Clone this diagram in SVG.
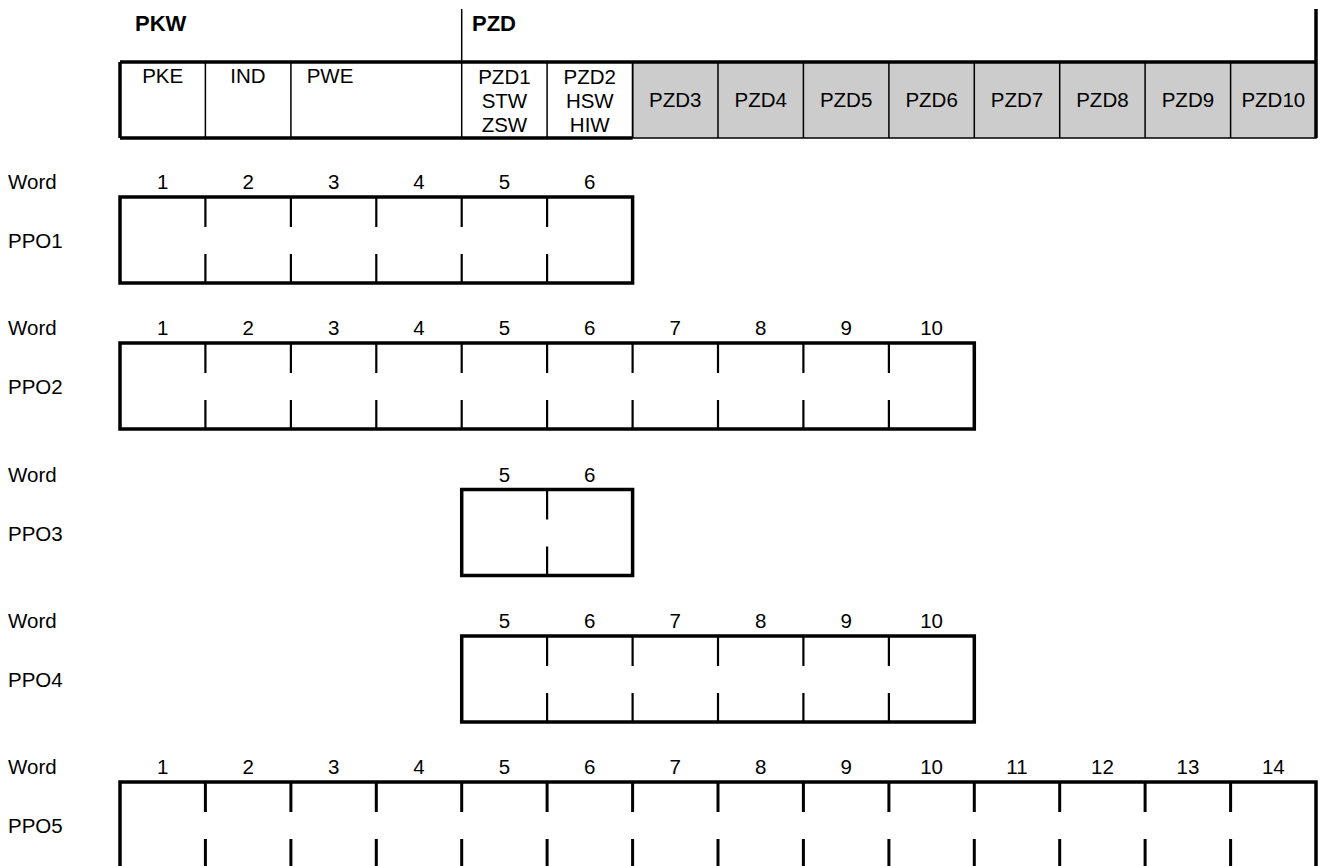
<svg xmlns="http://www.w3.org/2000/svg" width="1320" height="866" viewBox="0 0 1320 866">
<style>
text{font-family:"Liberation Sans",Arial,sans-serif;font-size:20.5px;fill:#000}
.b{font-weight:bold;font-size:22px}
.m{text-anchor:middle}
.thick{stroke:#000;stroke-width:3.5;fill:none}
.thin{stroke:#000;stroke-width:1.5;fill:none}
.tick{stroke:#000;stroke-width:2.2;fill:none}
.tick5{stroke:#000;stroke-width:3;fill:none}
.gray{fill:#cccccc;stroke:#000;stroke-width:1.5}
</style>
<rect width="1320" height="866" fill="#fff"/>
<g id="header">
  <rect class="gray" x="632.6" y="62" width="683.4" height="76"/>
  <path class="thin" d="M718 62V138M803.4 62V138M888.9 62V138M974.3 62V138M1059.7 62V138M1145.1 62V138M1230.6 62V138M205.4 62V138M290.9 62V138M547.1 62V138M632.6 62V138"/>
  <line class="thin" x1="461.7" y1="9" x2="461.7" y2="138"/>
  <line class="thick" x1="120" y1="62" x2="1316" y2="62"/>
  <line class="thick" x1="120" y1="62" x2="120" y2="138"/>
  <line class="thick" x1="1316" y1="9" x2="1316" y2="138"/>
  <line class="thick" x1="120" y1="138" x2="632.6" y2="138"/>
  <text class="b" x="135" y="31">PKW</text>
  <text class="b" x="472" y="31">PZD</text>
  <text class="m" x="162.7" y="83">PKE</text>
  <text class="m" x="248" y="83">IND</text>
  <text class="m" x="330" y="83">PWE</text>
  <text class="m" x="504.4" y="84">PZD1</text>
  <text class="m" x="504.4" y="108">STW</text>
  <text class="m" x="504.4" y="132">ZSW</text>
  <text class="m" x="589.8" y="84">PZD2</text>
  <text class="m" x="589.8" y="108">HSW</text>
  <text class="m" x="589.8" y="132">HIW</text>
  <text class="m" x="675.3" y="107">PZD3</text>
  <text class="m" x="760.7" y="107">PZD4</text>
  <text class="m" x="846.1" y="107">PZD5</text>
  <text class="m" x="931.6" y="107">PZD6</text>
  <text class="m" x="1017" y="107">PZD7</text>
  <text class="m" x="1102.4" y="107">PZD8</text>
  <text class="m" x="1187.9" y="107">PZD9</text>
  <text class="m" x="1273.3" y="107">PZD10</text>
</g>
<g id="ppo1">
  <text x="8" y="189">Word</text>
  <text x="8" y="248">PPO1</text>
  <text class="m" x="162.7" y="189">1</text>
  <text class="m" x="248.1" y="189">2</text>
  <text class="m" x="333.6" y="189">3</text>
  <text class="m" x="419" y="189">4</text>
  <text class="m" x="504.4" y="189">5</text>
  <text class="m" x="589.8" y="189">6</text>
  <rect class="thick" x="120" y="197" width="512.6" height="86"/>
  <path class="tick" d="M205.4 197v30M290.9 197v30M376.3 197v30M461.7 197v30M547.1 197v30M205.4 254v29M290.9 254v29M376.3 254v29M461.7 254v29M547.1 254v29"/>
</g>
<g id="ppo2">
  <text x="8" y="335">Word</text>
  <text x="8" y="394">PPO2</text>
  <text class="m" x="162.7" y="335">1</text>
  <text class="m" x="248.1" y="335">2</text>
  <text class="m" x="333.6" y="335">3</text>
  <text class="m" x="419" y="335">4</text>
  <text class="m" x="504.4" y="335">5</text>
  <text class="m" x="589.8" y="335">6</text>
  <text class="m" x="675.3" y="335">7</text>
  <text class="m" x="760.7" y="335">8</text>
  <text class="m" x="846.1" y="335">9</text>
  <text class="m" x="931.6" y="335">10</text>
  <rect class="thick" x="120" y="343" width="854.3" height="86"/>
  <path class="tick" d="M205.4 343v30M290.9 343v30M376.3 343v30M461.7 343v30M547.1 343v30M632.6 343v30M718 343v30M803.4 343v30M888.9 343v30M205.4 400v29M290.9 400v29M376.3 400v29M461.7 400v29M547.1 400v29M632.6 400v29M718 400v29M803.4 400v29M888.9 400v29"/>
</g>
<g id="ppo3">
  <text x="8" y="481.5">Word</text>
  <text x="8" y="540.5">PPO3</text>
  <text class="m" x="504.4" y="481.5">5</text>
  <text class="m" x="589.8" y="481.5">6</text>
  <rect class="thick" x="461.7" y="489.5" width="170.9" height="86"/>
  <path class="tick" d="M547.1 489.5v30M547.1 546.5v29"/>
</g>
<g id="ppo4">
  <text x="8" y="628">Word</text>
  <text x="8" y="687">PPO4</text>
  <text class="m" x="504.4" y="628">5</text>
  <text class="m" x="589.8" y="628">6</text>
  <text class="m" x="675.3" y="628">7</text>
  <text class="m" x="760.7" y="628">8</text>
  <text class="m" x="846.1" y="628">9</text>
  <text class="m" x="931.6" y="628">10</text>
  <rect class="thick" x="461.7" y="636" width="512.6" height="86"/>
  <path class="tick" d="M547.1 636v30M632.6 636v30M718 636v30M803.4 636v30M888.9 636v30M547.1 693v29M632.6 693v29M718 693v29M803.4 693v29M888.9 693v29"/>
</g>
<g id="ppo5">
  <text x="8" y="774">Word</text>
  <text x="8" y="833">PPO5</text>
  <text class="m" x="162.7" y="774">1</text>
  <text class="m" x="248.1" y="774">2</text>
  <text class="m" x="333.6" y="774">3</text>
  <text class="m" x="419" y="774">4</text>
  <text class="m" x="504.4" y="774">5</text>
  <text class="m" x="589.8" y="774">6</text>
  <text class="m" x="675.3" y="774">7</text>
  <text class="m" x="760.7" y="774">8</text>
  <text class="m" x="846.1" y="774">9</text>
  <text class="m" x="931.6" y="774">10</text>
  <text class="m" x="1017" y="774">11</text>
  <text class="m" x="1102.4" y="774">12</text>
  <text class="m" x="1187.9" y="774">13</text>
  <text class="m" x="1273.3" y="774">14</text>
  <rect class="thick" x="120" y="782" width="1196" height="86"/>
  <path class="tick5" d="M205.4 782v30M290.9 782v30M376.3 782v30M461.7 782v30M547.1 782v30M632.6 782v30M718 782v30M803.4 782v30M888.9 782v30M974.3 782v30M1059.7 782v30M1145.1 782v30M1230.6 782v30M205.4 839v29M290.9 839v29M376.3 839v29M461.7 839v29M547.1 839v29M632.6 839v29M718 839v29M803.4 839v29M888.9 839v29M974.3 839v29M1059.7 839v29M1145.1 839v29M1230.6 839v29"/>
</g>
</svg>
